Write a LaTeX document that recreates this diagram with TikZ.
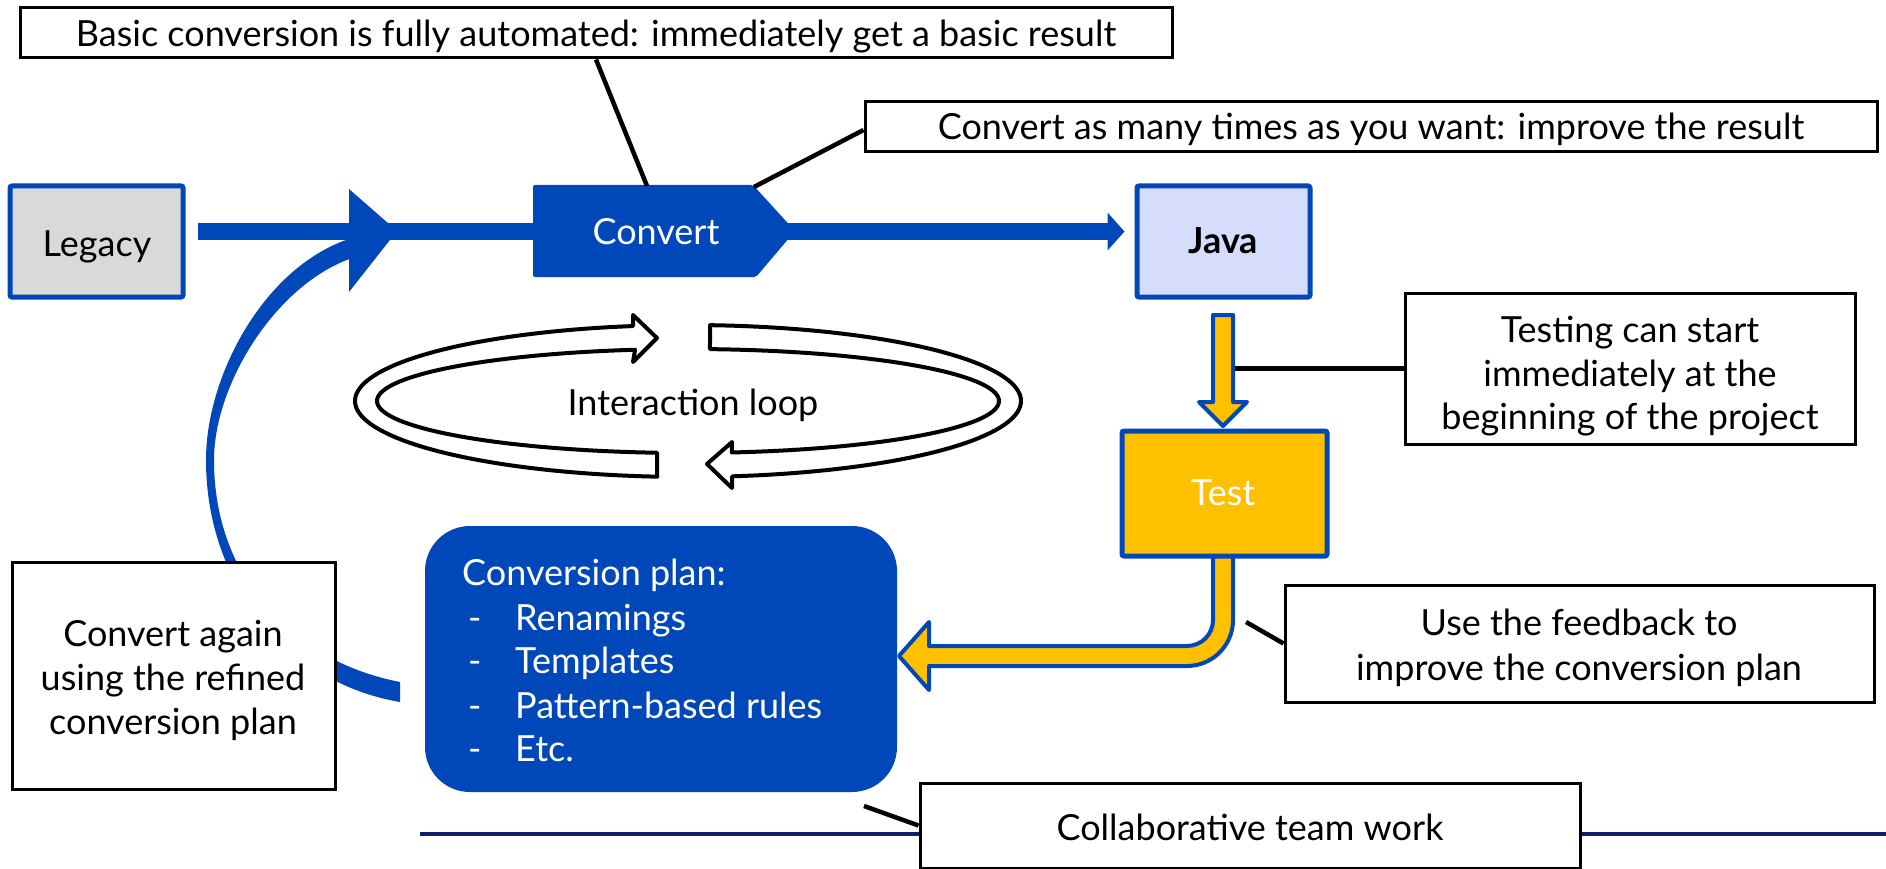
\documentclass[tikz,border=0pt]{standalone}
\usepackage{fontspec}
\setmainfont{Lato}
\usetikzlibrary{arrows.meta}
\definecolor{myblue}{RGB}{0,72,186}
\definecolor{javafill}{RGB}{214,220,251}
\definecolor{legfill}{RGB}{217,217,217}
\definecolor{testyel}{RGB}{255,192,0}
\definecolor{navy}{RGB}{16,32,100}
\tikzset{
  txt/.style={font=\fontsize{36pt}{44pt}\selectfont, inner sep=0pt, anchor=base, text=black},
  wtxt/.style={txt, text=white},
  callout/.style={draw=black, line width=3pt, fill=white, inner sep=0pt},
  bluebox/.style={draw=myblue, line width=5pt, inner sep=0pt, rounded corners=2pt},
  conn/.style={draw=black, line width=4.5pt},
  loopar/.style={draw=black, fill=white, line width=4pt, line join=round},
  yel/.style={draw=myblue, fill=testyel, line width=4pt, line join=round},
}
\begin{document}
\begin{tikzpicture}[x=1pt,y=-1pt]
\useasboundingbox (0,0) rectangle (1886,869);
\fill[white] (0,0) rectangle (1886,869);

% big curved feedback arrow
\fill[myblue] (400,702) .. controls (288,683) and (206,585) .. (206,460)
  .. controls (206,375) and (265,265) .. (352,238) -- (352,258)
  .. controls (275,285) and (214,385) .. (214,460)
  .. controls (214,578) and (292,661) .. (400,682) -- cycle;
\fill[myblue] (349,189) -- (397,231) -- (349,292) -- cycle;

% boxes
\node[bluebox, fill=legfill, minimum width=173pt, minimum height=111pt] (legacy) at (96.5,241.5) {};
\node[txt] (legacytxt) at (97,256) {Legacy};
\node[bluebox, fill=javafill, minimum width=173pt, minimum height=111pt] (java) at (1223.5,241.5) {};
\node[txt] (javatxt) at (1223,253) {\bfseries Java};

% main line
\draw[myblue, line width=17pt, -{Triangle[length=17pt,width=37pt]}]
  ([xshift=12pt,yshift=10pt]legacy.east) -- ([xshift=-10pt,yshift=10pt]java.west);

% convert shape
\fill[myblue, rounded corners=2pt] (533,185) -- (753,185) -- (795,231) -- (756,277) -- (533,277) -- cycle;
\node[wtxt] (convert) at (656,244) {Convert};
\coordinate (cvtop) at (647,186);
\coordinate (cvcorner) at (754,187);

% interaction loop
\draw[loopar] plot[domain=95.3:260.5, samples=80] ({688+333*cos(\x)},{401+76*sin(\x)})
  -- (633,315) -- (657,338) -- (633,362)
  -- plot[domain=260.2:95.7, samples=80] ({688+311*cos(\x)},{401+52*sin(\x)}) -- cycle;
\draw[loopar] plot[domain=-86.2:82.4, samples=80] ({688+333*cos(\x)},{401+76*sin(\x)})
  -- (732,488) -- (707,464) -- (732,442)
  -- plot[domain=81.9:-85.95, samples=80] ({688+311*cos(\x)},{401+52*sin(\x)}) -- cycle;
\node[txt] (looptxt) at (693,415) {Interaction loop};

% yellow arrows
\draw[yel] (1213,315) -- (1233,315) -- (1233,402) -- (1247,402) -- (1223,426) -- (1199,402) -- (1213,402) -- cycle;
\coordinate (dnarrow) at (1235,368.5);
\draw[yel] (1233,550) -- (1233,620) .. controls (1233,645.4) and (1212.4,666) .. (1187,666)
  -- (929,666) -- (929,690) -- (899,656) -- (929,622) -- (929,646) -- (1187,646)
  .. controls (1201.4,646) and (1213,634.4) .. (1213,620) -- (1213,550) -- cycle;
\coordinate (elbowpt) at (1246,622);
\node[bluebox, fill=testyel, minimum width=205pt, minimum height=125pt] (test) at (1224.5,493.5) {};
\node[wtxt] (testtxt) at (1223,505) {Test};

% conversion plan
\node[fill=myblue, rounded corners=45pt, minimum width=472pt, minimum height=266pt, inner sep=0pt] (plan) at (661,659) {};
\coordinate (planpt) at (864,806);
\node[wtxt, anchor=base west] (p0) at (462,585) {Conversion plan:};
\node[wtxt, anchor=base west] (d1) at (468,630) {-};
\node[wtxt, anchor=base west] (p1) at (515,630) {Renamings};
\node[wtxt, anchor=base west] (d2) at (468,673) {-};
\node[wtxt, anchor=base west] (p2) at (515,673) {Templates};
\node[wtxt, anchor=base west] (d3) at (468,718) {-};
\node[wtxt, anchor=base west] (p3) at (515,718) {Pattern-based rules};
\node[wtxt, anchor=base west] (d4) at (468,761) {-};
\node[wtxt, anchor=base west] (p4) at (515,761) {Etc.};

% navy line
\coordinate (navyA) at (420,834);
\coordinate (navyB) at (1886,834);
\draw[navy, line width=4pt] (navyA) -- (navyB);

% callouts
\node[callout, minimum width=1152pt, minimum height=50pt] (basicbox) at (596,33) {};
\node[txt] (basictxt) at (596,47) {Basic conversion is fully automated: immediately get a basic result};
\draw[conn] (basicbox.south) -- (cvtop);

\node[callout, minimum width=1012pt, minimum height=50pt] (manybox) at (1371,127) {};
\node[txt] (manytxt) at (1371,140) {Convert as many times as you want: improve the result};
\draw[conn] ([yshift=-3pt]manybox.west) -- (cvcorner);

\node[callout, minimum width=450pt, minimum height=151pt] (testingbox) at (1630,368.5) {};
\node[txt] (tt1) at (1630,342) {Testing can start};
\node[txt] (tt2) at (1630,386) {immediately at the};
\node[txt] (tt3) at (1630,429) {beginning of the project};
\draw[conn] (testingbox.west) -- (dnarrow);

\node[callout, minimum width=589pt, minimum height=117pt] (feedbackbox) at (1579.5,643.5) {};
\node[txt] (ft1) at (1579,635) {Use the feedback to};
\node[txt] (ft2) at (1579,680) {improve the conversion plan};
\draw[conn] (feedbackbox.west) -- (elbowpt);

\node[callout, minimum width=660pt, minimum height=85pt] (collabbox) at (1250,825.5) {};
\node[txt] (collabtxt) at (1250,840) {Collaborative team work};
\draw[conn] (collabbox.west) -- (planpt);

\node[callout, minimum width=323pt, minimum height=227pt] (againbox) at (173.5,675.5) {};
\node[txt] (at1) at (173,646) {Convert again};
\node[txt] (at2) at (173,690) {using the refined};
\node[txt] (at3) at (173,734) {conversion plan};
\end{tikzpicture}
\end{document}
